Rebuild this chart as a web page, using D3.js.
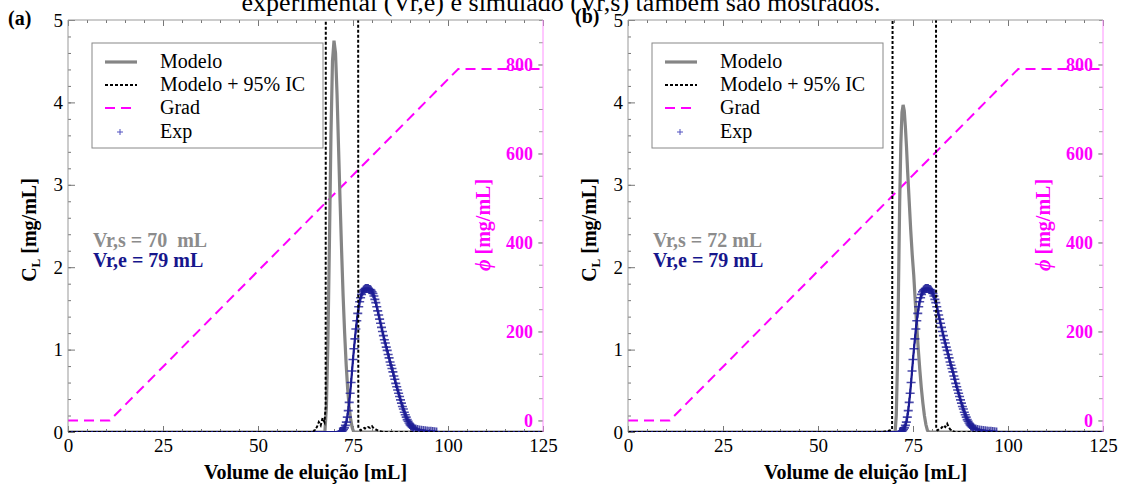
<!DOCTYPE html>
<html><head><meta charset="utf-8">
<script src="https://cdn.jsdelivr.net/npm/d3@7"></script>
<style>body{margin:0;background:#fff} svg{display:block} text{font-family:"Liberation Serif","Times New Roman",serif}</style>
</head><body><svg id="c" width="1121" height="491"></svg>
<script>
// ---------------- data ----------------
const caption = "experimental (Vr,e) e simulado (Vr,s) também são mostrados.";
const xMajor = [0, 25, 50, 75, 100, 125];
const yMajor = [0, 1, 2, 3, 4, 5];
const phiMajor = [0, 200, 400, 600, 800];
const legendLabels = ["Modelo", "Modelo + 95% IC", "Grad", "Exp"];

// gradient (same in both panels)
const gradX = [0, 11, 102.7, 125];
const gradY = [0, 0, 790, 790];

// experimental data (same experiment in both panels)
const expBaseX = [0, 125];
const expX = [71.5,71.75,72,72.25,72.5,72.75,73,73.25,73.5,73.75,74,74.25,74.5,74.75,75,75.25,75.5,75.75,76,76.25,76.5,76.75,77,77.25,77.5,77.75,78,78.25,78.5,78.75,79,79.25,79.5,79.75,80,80.25,80.5,80.75,81,81.25,81.5,81.75,82,82.25,82.5,82.75,83,83.25,83.5,83.75,84,84.25,84.5,84.75,85,85.25,85.5,85.75,86,86.25,86.5,86.75,87,87.25,87.5,87.75,88,88.25,88.5,88.75,89,89.25,89.5,89.75,90,90.25,90.5,90.75,91,91.5,92,92.5,93,93.5,94,94.5,95,95.5,96,96.5,97];
const expY = [0,0.005,0.01,0.015,0.03,0.05,0.08,0.12,0.18,0.26,0.36,0.47,0.60,0.74,0.88,1.01,1.13,1.25,1.35,1.44,1.52,1.58,1.63,1.67,1.70,1.72,1.73,1.74,1.74,1.74,1.74,1.73,1.73,1.72,1.70,1.68,1.65,1.61,1.57,1.52,1.47,1.42,1.37,1.32,1.27,1.22,1.17,1.12,1.08,1.03,0.99,0.94,0.90,0.85,0.81,0.77,0.73,0.68,0.64,0.59,0.55,0.51,0.47,0.43,0.39,0.35,0.31,0.28,0.24,0.21,0.18,0.15,0.13,0.11,0.09,0.075,0.065,0.055,0.045,0.035,0.03,0.025,0.02,0.018,0.015,0.012,0.01,0.008,0.005,0.003,0];

// panel (a) model
const modelAX = [0,67.6,68.0,68.4,68.8,69.2,69.6,70.0,70.4,70.8,71.2,71.6,72.0,72.4,72.8,73.2,73.6,74.0,74.4,74.8,75.2,125];
const modelAY = [0,0,0.3,1.1,2.3,3.6,4.5,4.75,4.6,4.1,3.45,2.8,2.2,1.65,1.2,0.82,0.52,0.3,0.15,0.05,0,0];
const icAX = [0,64.5,65.0,65.5,66.0,66.5,67.0,67.5,67.8,67.9,76.3,76.4,77,77.5,78,78.5,79,79.5,80,80.5,81,81.5,82,83,125];
const icAY = [0,0,0.03,0.06,0.12,0.08,0.17,0.12,0.3,12,12,0.05,0.02,0.03,0.05,0.04,0.06,0.05,0.07,0.04,0.03,0.02,0.01,0,0];

// panel (b) model
const modelBX = [0,70.3,70.6,70.9,71.2,71.5,71.8,72.1,72.4,72.7,73.0,73.3,73.6,74.0,74.4,74.8,75.2,75.6,76.0,76.4,76.8,77.2,77.6,78.0,78.4,78.8,79.2,125];
const modelBY = [0,0,0.2,0.8,1.8,2.8,3.5,3.88,3.97,3.9,3.7,3.45,3.15,2.8,2.45,2.15,1.9,1.58,1.28,1.0,0.75,0.53,0.35,0.2,0.09,0.02,0,0];
const icBX = [0,67,68,69,69.5,69.8,81.0,81.1,81.5,82,82.5,83,83.5,84,84.5,85,86,125];
const icBY = [0,0,0.01,0.02,0.03,12,12,0.03,0.02,0.04,0.05,0.08,0.06,0.1,0.05,0.02,0,0];

const panelTags = ["(a)", "(b)"];
const vrsLabels = ["Vr,s = 70  mL", "Vr,s = 72 mL"];
const vreLabels = ["Vr,e = 79 mL", "Vr,e = 79 mL"];

// ---------------- drawing ----------------
const FONT = "'Liberation Serif','Times New Roman',serif";
const svg = d3.select("#c");
const zip = (xs, ys) => xs.map((v, i) => [v, ys[i]]);
const MAG = "#ff00ff", NAVY = "#16168c", GRAY = "#858585";

svg.append("text").attr("x", 561).attr("y", 11).attr("text-anchor", "middle")
  .attr("font-family", FONT).attr("font-size", 26).text(caption);

const panels = [
  {tag: panelTags[0], left: 68, tagX: 8, tagY: 25, model: zip(modelAX, modelAY), ic: zip(icAX, icAY), vrs: vrsLabels[0], vre: vreLabels[0]},
  {tag: panelTags[1], left: 628, tagX: 575, tagY: 23, model: zip(modelBX, modelBY), ic: zip(icBX, icBY), vrs: vrsLabels[1], vre: vreLabels[1]}
];
const expPeak = zip(expX, expY);
const expLine = [[expBaseX[0], 0]].concat(expPeak, [[expBaseX[1], 0]]);
const grad = zip(gradX, gradY);

panels.forEach((p, pi) => {
  const L = p.left, R = p.left + 475, T = 20, B = 432;
  const x = d3.scaleLinear().domain([0, 125]).range([L, R]);
  const y = d3.scaleLinear().domain([0, 5]).range([B, T]);
  const y2 = d3.scaleLinear().domain([-26, 900]).range([B, T]);
  const g = svg.append("g");

  const styleAxis = (sel, color) => {
    sel.select(".domain").remove();
    sel.attr("font-family", FONT).attr("font-size", 19);
    sel.selectAll("text").attr("font-family", FONT);
    sel.selectAll("line").attr("stroke", color || "#777");
  };

  // axes
  g.append("g").attr("transform", `translate(0,${B})`)
    .call(d3.axisBottom(x).tickValues(d3.range(0, 126, 5)).tickSize(-3).tickFormat(""))
    .call(s => styleAxis(s));
  g.append("g").attr("transform", `translate(0,${B})`)
    .call(d3.axisBottom(x).tickValues(xMajor).tickSize(-6).tickPadding(7).tickFormat(d3.format("d")))
    .call(s => styleAxis(s)).selectAll("text").attr("fill", "#000");
  g.append("g").attr("transform", `translate(0,${T})`)
    .call(d3.axisTop(x).tickValues(d3.range(0, 126, 5)).tickSize(-3).tickFormat(""))
    .call(s => styleAxis(s));
  g.append("g").attr("transform", `translate(0,${T})`)
    .call(d3.axisTop(x).tickValues(xMajor).tickSize(-6).tickFormat(""))
    .call(s => styleAxis(s));
  g.append("g").attr("transform", `translate(${L},0)`)
    .call(d3.axisLeft(y).tickValues(d3.range(0, 5.01, 0.2)).tickSize(-3).tickFormat(""))
    .call(s => styleAxis(s));
  g.append("g").attr("transform", `translate(${L},0)`)
    .call(d3.axisLeft(y).tickValues(yMajor).tickSize(-7).tickPadding(5).tickFormat(d3.format("d")))
    .call(s => styleAxis(s)).selectAll("text").attr("fill", "#000");
  g.append("g").attr("transform", `translate(${R},0)`)
    .call(d3.axisLeft(y2).tickValues(d3.range(0, 901, 50)).tickSize(4).tickFormat(""))
    .call(s => styleAxis(s, "#999"));
  g.append("g").attr("transform", `translate(${R},0)`)
    .call(d3.axisLeft(y2).tickValues(phiMajor).tickSize(5).tickPadding(5).tickFormat(d3.format("d")))
    .call(s => styleAxis(s, "#999")).selectAll("text")
    .attr("fill", MAG).attr("font-weight", "bold").attr("font-size", 18);

  // clip
  const cid = "clip" + pi;
  svg.append("clipPath").attr("id", cid).append("rect")
    .attr("x", L).attr("y", T).attr("width", R - L).attr("height", B - T);
  const d = g.append("g").attr("clip-path", `url(#${cid})`);

  const line = d3.line().x(v => x(v[0])).y(v => y(v[1]));
  const line2 = d3.line().x(v => x(v[0])).y(v => y2(v[1]));

  d.append("path").attr("d", line2(grad)).attr("fill", "none").attr("stroke", MAG)
    .attr("stroke-width", 2).attr("stroke-dasharray", "10,6");
  d.append("path").attr("d", line(p.model)).attr("fill", "none").attr("stroke", GRAY)
    .attr("stroke-width", 3.2);
  d.append("path").attr("d", line(expLine)).attr("fill", "none").attr("stroke", NAVY)
    .attr("stroke-width", 2.2);
  const mk = d.append("g").attr("stroke", "#1e1e96").attr("stroke-opacity", 0.8).attr("stroke-width", 1.6);
  expPeak.forEach(v => {
    const cx = x(v[0]), cy = y(v[1]);
    mk.append("path").attr("d", `M${cx - 4.5},${cy}H${cx + 4.5}M${cx},${cy - 4.5}V${cy + 4.5}`);
  });
  d.append("path").attr("d", line(p.ic)).attr("fill", "none").attr("stroke", "#000")
    .attr("stroke-width", 2).attr("stroke-dasharray", "3,2");

  // spines
  g.append("line").attr("x1", L).attr("x2", R).attr("y1", T).attr("y2", T).attr("stroke", "#999");
  g.append("line").attr("x1", L).attr("x2", L).attr("y1", T).attr("y2", B).attr("stroke", "#999");
  g.append("line").attr("x1", R).attr("x2", R).attr("y1", T).attr("y2", B).attr("stroke", "#ff90ff");

  // legend
  const lg = g.append("g").attr("transform", `translate(${L + 24},43)`);
  lg.append("rect").attr("width", 231).attr("height", 105).attr("fill", "#fff").attr("stroke", "#888");
  const rows = [19, 42, 65, 89];
  lg.append("line").attr("x1", 13).attr("x2", 45).attr("y1", rows[0]).attr("y2", rows[0]).attr("stroke", GRAY).attr("stroke-width", 3.2);
  lg.append("line").attr("x1", 13).attr("x2", 45).attr("y1", rows[1]).attr("y2", rows[1]).attr("stroke", "#000").attr("stroke-width", 2).attr("stroke-dasharray", "3,2");
  lg.append("line").attr("x1", 13).attr("x2", 45).attr("y1", rows[2]).attr("y2", rows[2]).attr("stroke", MAG).attr("stroke-width", 2).attr("stroke-dasharray", "10,6");
  lg.append("path").attr("d", `M25,${rows[3]}h6M28,${rows[3] - 3}v6`).attr("stroke", "#5050c0").attr("stroke-width", 1);
  legendLabels.forEach((t, i) => lg.append("text").attr("x", 68).attr("y", rows[i] + 6)
    .attr("font-family", FONT).attr("font-size", 20).text(t));

  // annotations
  g.append("text").attr("x", L + 25).attr("y", 247).attr("font-size", 20).attr("font-weight", "bold")
    .attr("font-family", FONT).attr("fill", "#8c8c8c").style("white-space", "pre").text(p.vrs);
  g.append("text").attr("x", L + 25).attr("y", 267).attr("font-size", 20).attr("font-weight", "bold")
    .attr("font-family", FONT).attr("fill", NAVY).style("white-space", "pre").text(p.vre);

  // axis titles
  g.append("text").attr("x", (L + R) / 2).attr("y", 479).attr("text-anchor", "middle")
    .attr("font-family", FONT).attr("font-size", 20).attr("font-weight", "bold").text("Volume de eluição [mL]");
  const yl = g.append("text").attr("transform", `translate(${L - 32},230) rotate(-90)`)
    .attr("font-family", FONT).attr("text-anchor", "middle").attr("font-size", 20).attr("font-weight", "bold");
  yl.append("tspan").text("C");
  yl.append("tspan").attr("font-size", 13).attr("dy", 4).text("L");
  yl.append("tspan").attr("dy", -4).text(" [mg/mL]");
  const pl = g.append("text").attr("transform", `translate(${R - 53},225) rotate(-90)`)
    .attr("font-family", FONT).attr("text-anchor", "middle").attr("font-size", 20).attr("font-weight", "bold").attr("fill", MAG);
  pl.append("tspan").attr("font-style", "italic").text("ϕ");
  pl.append("tspan").text(" [mg/mL]");

  // panel tag
  svg.append("text").attr("x", p.tagX).attr("y", p.tagY).attr("font-size", 20)
    .attr("font-family", FONT).attr("font-weight", "bold").text(p.tag);
});
</script></body></html>
